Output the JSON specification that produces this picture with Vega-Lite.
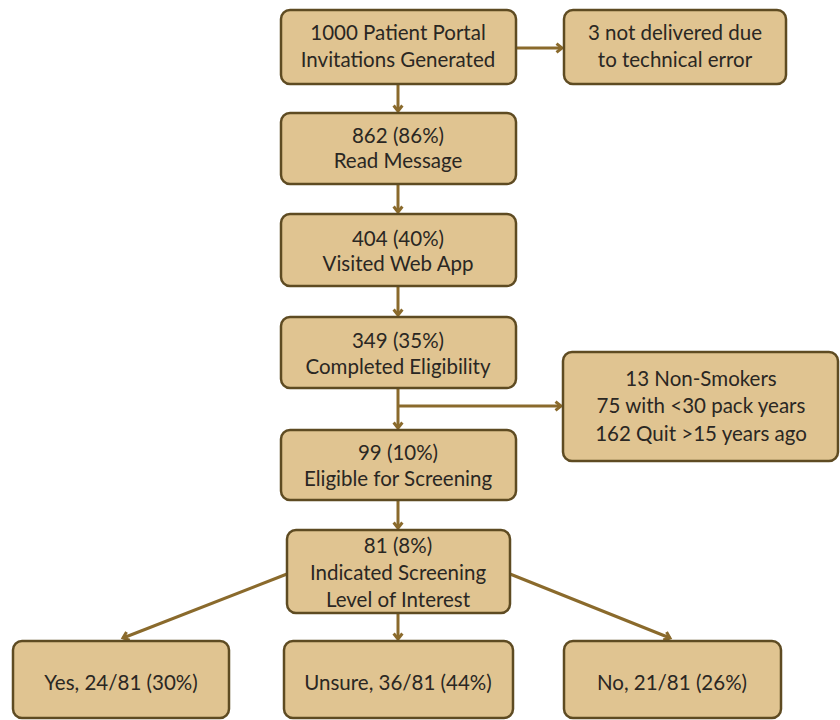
{
  "$schema": "https://vega.github.io/schema/vega-lite/v6.json",
  "autosize": {"type": "fit", "contains": "padding"},
  "width": 840,
  "height": 720,
  "padding": 0,
  "background": "#ffffff",
  "config": {"view": {"stroke": null}},
  "datasets": {
    "boxes": [
      {"id": "invites", "x1": 281, "x2": 516, "y1": 10, "y2": 84},
      {"id": "undelivered", "x1": 564, "x2": 786, "y1": 10, "y2": 84},
      {"id": "read", "x1": 281, "x2": 516, "y1": 113, "y2": 184},
      {"id": "visited", "x1": 281, "x2": 516, "y1": 214, "y2": 286},
      {"id": "completed", "x1": 281, "x2": 516, "y1": 317, "y2": 388},
      {"id": "excluded", "x1": 563, "x2": 838, "y1": 352, "y2": 461},
      {"id": "eligible", "x1": 281, "x2": 516, "y1": 430, "y2": 500},
      {"id": "indicated", "x1": 287, "x2": 510, "y1": 530, "y2": 613},
      {"id": "yes", "x1": 13, "x2": 229, "y1": 641, "y2": 718},
      {"id": "unsure", "x1": 284, "x2": 513, "y1": 641, "y2": 718},
      {"id": "no", "x1": 564, "x2": 781, "y1": 641, "y2": 718}
    ],
    "labels": [
      {"text": "1000 Patient Portal", "x": 398, "y": 34},
      {"text": "Invitations Generated", "x": 398, "y": 61},
      {"text": "3 not delivered due", "x": 675, "y": 34},
      {"text": "to technical error", "x": 675, "y": 61},
      {"text": "862 (86%)", "x": 398, "y": 137},
      {"text": "Read Message", "x": 398, "y": 162},
      {"text": "404 (40%)", "x": 398, "y": 240},
      {"text": "Visited Web App", "x": 398, "y": 265},
      {"text": "349 (35%)", "x": 398, "y": 342},
      {"text": "Completed Eligibility", "x": 398, "y": 368},
      {"text": "13 Non-Smokers", "x": 701, "y": 380},
      {"text": "75 with <30 pack years", "x": 701, "y": 407},
      {"text": "162 Quit >15  years ago", "x": 701, "y": 435},
      {"text": "99 (10%)", "x": 398, "y": 454},
      {"text": "Eligible for Screening", "x": 398, "y": 480},
      {"text": "81 (8%)", "x": 398, "y": 547},
      {"text": "Indicated Screening", "x": 398, "y": 574},
      {"text": "Level of Interest", "x": 398, "y": 601},
      {"text": "Yes, 24/81 (30%)", "x": 121, "y": 684},
      {"text": "Unsure, 36/81 (44%)", "x": 398, "y": 684},
      {"text": "No, 21/81 (26%)", "x": 672, "y": 684}
    ],
    "arrows": [
      {"x1": 398, "y1": 84, "x2": 398, "y2": 111, "angle": 90},
      {"x1": 516, "y1": 48, "x2": 562, "y2": 48, "angle": 0},
      {"x1": 398, "y1": 184, "x2": 398, "y2": 212, "angle": 90},
      {"x1": 398, "y1": 286, "x2": 398, "y2": 315, "angle": 90},
      {"x1": 398, "y1": 388, "x2": 398, "y2": 428, "angle": 90},
      {"x1": 398, "y1": 406, "x2": 561, "y2": 406, "angle": 0},
      {"x1": 398, "y1": 500, "x2": 398, "y2": 528, "angle": 90},
      {"x1": 398, "y1": 613, "x2": 398, "y2": 639, "angle": 90},
      {"x1": 287, "y1": 574, "x2": 123, "y2": 638, "angle": 158.7},
      {"x1": 510, "y1": 574, "x2": 670, "y2": 638, "angle": 21.8}
    ]
  },
  "layer": [
    {
      "data": {"name": "arrows"},
      "mark": {"type": "rule", "stroke": "#8a6a2c", "strokeWidth": 3},
      "encoding": {
        "x": {"field": "x1", "type": "quantitative", "scale": {"domain": [0, 840]}, "axis": null},
        "y": {"field": "y1", "type": "quantitative", "scale": {"domain": [720, 0]}, "axis": null},
        "x2": {"field": "x2"},
        "y2": {"field": "y2"}
      }
    },
    {
      "data": {"name": "arrows"},
      "mark": {"type": "point", "shape": "M -1 -0.8 L 0 0 L -1 0.8", "filled": false, "stroke": "#8a6a2c", "strokeWidth": 3, "size": 120, "opacity": 1, "strokeJoin": "miter"},
      "encoding": {
        "x": {"field": "x2", "type": "quantitative", "scale": {"domain": [0, 840]}, "axis": null},
        "y": {"field": "y2", "type": "quantitative", "scale": {"domain": [720, 0]}, "axis": null},
        "angle": {"field": "angle", "type": "quantitative", "scale": null}
      }
    },
    {
      "data": {"name": "boxes"},
      "mark": {"type": "rect", "fill": "#e0c491", "stroke": "#5e4b22", "strokeWidth": 2.5, "cornerRadius": 9},
      "encoding": {
        "x": {"field": "x1", "type": "quantitative", "scale": {"domain": [0, 840]}, "axis": null},
        "x2": {"field": "x2"},
        "y": {"field": "y1", "type": "quantitative", "scale": {"domain": [720, 0]}, "axis": null},
        "y2": {"field": "y2"}
      }
    },
    {
      "data": {"name": "labels"},
      "mark": {"type": "text", "font": "Lato", "fontSize": 20.5, "color": "#2a2723", "align": "center", "baseline": "middle"},
      "encoding": {
        "x": {"field": "x", "type": "quantitative", "scale": {"domain": [0, 840]}, "axis": null},
        "y": {"field": "y", "type": "quantitative", "scale": {"domain": [720, 0]}, "axis": null},
        "text": {"field": "text"}
      }
    }
  ]
}
